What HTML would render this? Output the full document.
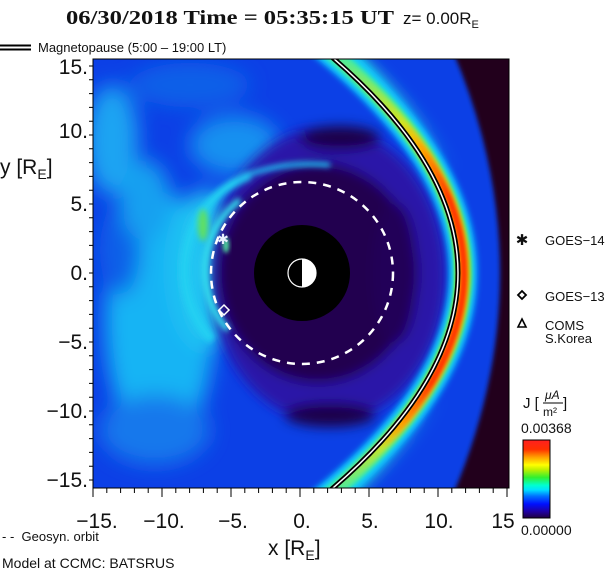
<!DOCTYPE html>
<html><head><meta charset="utf-8"><style>
html,body{margin:0;padding:0;background:#fff;}
svg{display:block;}
text{font-family:"Liberation Sans",sans-serif;fill:#111;}
</style></head><body>
<svg width="616" height="574" viewBox="0 0 616 574" xmlns="http://www.w3.org/2000/svg">
<defs>
<clipPath id="pc"><rect x="93" y="59" width="416" height="429"/></clipPath>
<filter id="b10" x="-50%" y="-50%" width="200%" height="200%"><feGaussianBlur stdDeviation="10"/></filter>
<filter id="b6" x="-50%" y="-50%" width="200%" height="200%"><feGaussianBlur stdDeviation="6"/></filter>
<filter id="b3" x="-50%" y="-50%" width="200%" height="200%"><feGaussianBlur stdDeviation="3"/></filter>
<filter id="b2" x="-50%" y="-50%" width="200%" height="200%"><feGaussianBlur stdDeviation="2"/></filter>
<linearGradient id="gGreen" gradientUnits="userSpaceOnUse" x1="0" y1="23" x2="0" y2="523">
<stop offset="0" stop-color="#30e8c0"/><stop offset="0.5" stop-color="#70ff30"/><stop offset="1" stop-color="#30e8c0"/></linearGradient>
<linearGradient id="gYel" gradientUnits="userSpaceOnUse" x1="0" y1="23" x2="0" y2="523">
<stop offset="0.05" stop-color="#ffe000" stop-opacity="0"/><stop offset="0.25" stop-color="#ffe000" stop-opacity="1"/><stop offset="0.8" stop-color="#ffe000" stop-opacity="1"/><stop offset="0.95" stop-color="#ffe000" stop-opacity="0"/></linearGradient>
<linearGradient id="gRed" gradientUnits="userSpaceOnUse" x1="0" y1="23" x2="0" y2="523">
<stop offset="0.2" stop-color="#ff2000" stop-opacity="0"/><stop offset="0.35" stop-color="#ff3000" stop-opacity="1"/><stop offset="0.72" stop-color="#ff3000" stop-opacity="1"/><stop offset="0.85" stop-color="#ff2000" stop-opacity="0"/></linearGradient>
<linearGradient id="gOut" gradientUnits="userSpaceOnUse" x1="0" y1="23" x2="0" y2="523">
<stop offset="0" stop-color="#30f0d0" stop-opacity="1"/><stop offset="0.3" stop-color="#20d0f0" stop-opacity="0"/><stop offset="0.75" stop-color="#20d0f0" stop-opacity="0"/><stop offset="1" stop-color="#30f0d0" stop-opacity="0.9"/></linearGradient>
<linearGradient id="cb" x1="0" y1="1" x2="0" y2="0">
<stop offset="0" stop-color="#200040"/><stop offset="0.08" stop-color="#2000a0"/><stop offset="0.18" stop-color="#0010ff"/><stop offset="0.28" stop-color="#0070ff"/><stop offset="0.36" stop-color="#00e0ff"/><stop offset="0.42" stop-color="#00ffd0"/><stop offset="0.52" stop-color="#30f030"/><stop offset="0.62" stop-color="#c0f000"/><stop offset="0.68" stop-color="#ffff00"/><stop offset="0.78" stop-color="#ffa000"/><stop offset="0.88" stop-color="#ff3000"/><stop offset="1" stop-color="#ff2020"/></linearGradient>
</defs>

<g clip-path="url(#pc)">
<rect x="93" y="59" width="416" height="429" fill="#0c40e6"/>
<g filter="url(#b10)">
<ellipse cx="160" cy="320" rx="55" ry="130" fill="#18b4f4"/>
<ellipse cx="112" cy="140" rx="26" ry="55" fill="#1aa4f2"/>
<ellipse cx="205" cy="270" rx="35" ry="80" fill="#20c4f2"/>
<ellipse cx="155" cy="430" rx="55" ry="35" fill="#1478ec"/>
<ellipse cx="235" cy="145" rx="45" ry="30" fill="#1890f0"/>
<ellipse cx="120" cy="250" rx="20" ry="45" fill="#1060e8"/>
<ellipse cx="190" cy="85" rx="60" ry="22" fill="#1060e8"/>
<ellipse cx="145" cy="200" rx="25" ry="40" fill="#18a0f0"/>
</g>
<g filter="url(#b6)">
<ellipse cx="328" cy="275" rx="118" ry="148" fill="#2a14a8"/>
<ellipse cx="318" cy="273" rx="100" ry="110" fill="#240550"/>
<ellipse cx="340" cy="138" rx="40" ry="12" fill="#1e0648"/>
<ellipse cx="330" cy="415" rx="45" ry="12" fill="#1e0648"/>
<ellipse cx="395" cy="273" rx="22" ry="70" fill="#240658"/>
</g>
<g filter="url(#b3)" fill="none">
<path d="M250,175 A102,102 0 0 0 212,340" stroke="#22d0f2" stroke-width="9"/>
<path d="M240,200 A88,88 0 0 0 228,330" stroke="#30e4f0" stroke-width="6"/>
<path d="M235,180 Q280,160 330,165" stroke="#22b8f0" stroke-width="5"/>
</g>
<ellipse cx="203" cy="225" rx="5" ry="16" fill="#60e060" filter="url(#b3)"/>
<ellipse cx="226" cy="245" rx="3" ry="8" fill="#50e8a0" filter="url(#b2)"/>
<path d="M448,40 Q552,273 448,506 L520,506 L520,40 Z" fill="#24001c" filter="url(#b2)"/>
<g fill="none">
<path d="M305,23 Q643,273 305,523" stroke="url(#gOut)" stroke-width="22" filter="url(#b6)"/>
<path d="M294,23 Q632,273 294,523" stroke="#10c8ff" stroke-width="28" filter="url(#b3)"/>
<path d="M294,23 Q632,273 294,523" stroke="url(#gGreen)" stroke-width="17" filter="url(#b2)"/>
<path d="M294,23 Q632,273 294,523" stroke="url(#gYel)" stroke-width="11" filter="url(#b2)"/>
<path d="M295,23 Q633,273 295,523" stroke="url(#gRed)" stroke-width="8" filter="url(#b2)"/>
<path d="M289,23 Q627,273 289,523" stroke="#000" stroke-width="5"/>
<path d="M289,23 Q627,273 289,523" stroke="#fff" stroke-width="1.5"/>
</g>
<circle cx="302" cy="273" r="48" fill="#000"/>
<path d="M302,259 A14,14 0 0 1 302,287 Z" fill="#fff"/>
<circle cx="302" cy="273" r="14" fill="none" stroke="#fff" stroke-width="1.2"/>
<circle cx="302" cy="273" r="91" fill="none" stroke="#fff" stroke-width="2.5" stroke-dasharray="8,7"/>
<text x="223" y="244" font-size="14" text-anchor="middle" style="fill:#e8f0ff">✱</text>
<path d="M224,305 L229,310 L224,315 L219,310 Z" fill="none" stroke="#fff" stroke-width="1.5"/>
</g>
<rect x="93" y="59" width="416" height="429" fill="none" stroke="#000" stroke-width="1"/>

<path stroke="#000" stroke-width="1" fill="none" d="
M93,488v9 M106.8,488v5 M120.6,488v5 M134.4,488v5 M148.2,488v5 M162,488v9 M175.8,488v5 M189.6,488v5 M203.4,488v5 M217.2,488v5 M231,488v9 M244.8,488v5 M258.6,488v5 M272.4,488v5 M286.2,488v5 M300,488v9 M313.8,488v5 M327.6,488v5 M341.4,488v5 M355.2,488v5 M369,488v9 M382.8,488v5 M396.6,488v5 M410.4,488v5 M424.2,488v5 M438,488v9 M451.8,488v5 M465.6,488v5 M479.4,488v5 M493.2,488v5 M507,488v9
M93,66h-4 M93,79.8h-4 M93,93.6h-4 M93,107.4h-4 M93,121.2h-4 M93,135h-4 M93,148.8h-4 M93,162.6h-4 M93,176.4h-4 M93,190.2h-4 M93,204h-4 M93,217.8h-4 M93,231.6h-4 M93,245.4h-4 M93,259.2h-4 M93,273h-4 M93,286.8h-4 M93,300.6h-4 M93,314.4h-4 M93,328.2h-4 M93,342h-4 M93,355.8h-4 M93,369.6h-4 M93,383.4h-4 M93,397.2h-4 M93,411h-4 M93,424.8h-4 M93,438.6h-4 M93,452.4h-4 M93,466.2h-4 M93,480h-4"/>

<g font-size="21" text-anchor="end">
<text x="88" y="74">15.</text>
<text x="88" y="138">10.</text>
<text x="88" y="211">5.</text>
<text x="88" y="280">0.</text>
<text x="88" y="349">−5.</text>
<text x="88" y="418">−10.</text>
<text x="88" y="487">−15.</text>
</g>
<g font-size="21" text-anchor="middle">
<text x="97" y="528">−15.</text>
<text x="164" y="528">−10.</text>
<text x="233" y="528">−5.</text>
<text x="302" y="528">0.</text>
<text x="370" y="528">5.</text>
<text x="439" y="528">10.</text>
<text x="503" y="528">15</text>
</g>
<text x="268" y="555" font-size="21">x [R<tspan font-size="14" dy="5">E</tspan><tspan dy="-5">]</tspan></text>
<text x="0" y="174" font-size="21">y [R<tspan font-size="14" dy="5">E</tspan><tspan dy="-5">]</tspan></text>

<text x="66" y="24" font-size="20" font-weight="bold" textLength="328" lengthAdjust="spacingAndGlyphs" style="font-family:'Liberation Serif',serif">06/30/2018 Time = 05:35:15 UT</text>
<text x="403" y="24" font-size="17">z= 0.00R<tspan font-size="11" dy="4">E</tspan></text>
<path d="M0,45.5h31 M0,49.5h31" stroke="#000" stroke-width="2"/>
<text x="38" y="52" font-size="13">Magnetopause (5:00 – 19:00 LT)</text>

<text x="522" y="245" font-size="15" text-anchor="middle">✱</text>
<text x="545" y="245" font-size="13">GOES−14</text>
<path d="M522,291 L526,295 L522,299 L518,295 Z" fill="none" stroke="#000" stroke-width="1.8"/>
<text x="545" y="301" font-size="13">GOES−13</text>
<path d="M522,319 L526,327 L518,327 Z" fill="none" stroke="#000" stroke-width="1.6"/>
<text x="545" y="330" font-size="13">COMS</text>
<text x="545" y="343" font-size="13">S.Korea</text>
<text x="523" y="408" font-size="15">J [</text>
<text x="545" y="399" font-size="12" font-style="italic">μA</text>
<path d="M543,403h20" stroke="#000" stroke-width="1"/>
<text x="543" y="416" font-size="12">m²</text>
<text x="563" y="408" font-size="15">]</text>
<text x="521" y="433" font-size="14">0.00368</text>
<rect x="523" y="440" width="27" height="78" fill="url(#cb)" stroke="#000" stroke-width="1"/>
<text x="521" y="535" font-size="14">0.00000</text>

<text x="2" y="541" font-size="13">- - &#160;Geosyn. orbit</text>
<text x="2" y="568" font-size="14">Model at CCMC: BATSRUS</text>
</svg>
</body></html>
